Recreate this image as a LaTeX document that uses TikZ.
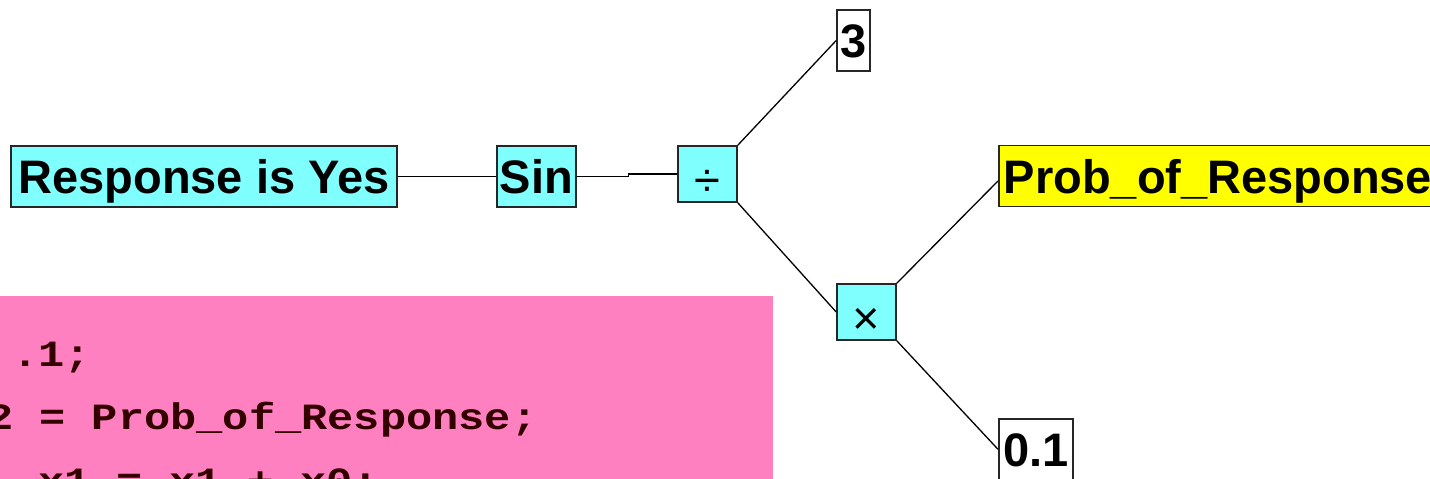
\documentclass[tikz,border=0pt]{standalone}
\usepackage{fontspec}
\setmainfont{Liberation Sans}
\newfontfamily\codefont[FakeStretch=1.18]{Liberation Mono}
\usepackage{tikz}
\definecolor{opcyan}{HTML}{80FFFF}
\definecolor{varyellow}{HTML}{FFFF00}
\definecolor{codepink}{HTML}{FF80C0}
\definecolor{codeink}{HTML}{330000}

\begin{document}
\begin{tikzpicture}[x=1pt,y=-1pt,
    treenode/.style={draw=black!85, line width=1.6pt, inner sep=0pt, minimum height=61pt,
      text height=34pt, text depth=0pt, font=\fontsize{47}{50}\selectfont\bfseries},
    opnode/.style={treenode, fill=opcyan},
    signnode/.style={opnode, minimum width=59pt, minimum height=56pt, font=\fontsize{47}{50}\selectfont\mdseries},
    varnode/.style={treenode, fill=varyellow, inner xsep=5pt},
    constnode/.style={treenode, fill=white},
    codeline/.style={inner sep=0pt, text=codeink, font=\codefont\fontsize{37}{40}\selectfont\bfseries},
    wire/.style={draw=black, line width=1.3pt}]
  \useasboundingbox (0,0) rectangle (1430,479);
  \clip (0,0) rectangle (1430,479);
  % code panel
  \fill[codepink] (0,296) rectangle (773,490);
  \node[codeline, anchor=base west] (codeA) at (12,366) {.1;};
  \node[codeline, anchor=base west] (codeB) at (-13,429) {2 = Prob\_of\_Response;};
  \node[codeline, anchor=base west] (codeC) at (38,493) {x1 = x1 + x0;};
  % tree
  \node[opnode, minimum width=386pt] (resp) at (204,176.5) {Response is Yes};
  \node[opnode, minimum width=79pt] (sin) at (536.5,176.5) {Sin};
  \node[signnode] (div) at (707.5,174) {\raisebox{-5pt}{÷}};
  \node[constnode, minimum width=33pt] (three) at (853.5,40.5) {3};
  \node[signnode] (mul) at (866.5,312) {\raisebox{-5pt}{×}};
  \node[varnode, anchor=west] (prob) at (998,176) {Prob\_of\_Response};
  \node[constnode, minimum width=74pt, anchor=north west] (zero) at (998,418) {0.1};
  \draw[wire] (resp) -- (sin);
  \draw[wire] (sin.east) -- ++(52,0) |- (div.west);
  \draw[wire] (div.north east) -- (three.west);
  \draw[wire] (div.south east) -- (mul.west);
  \draw[wire] (mul.north east) -- ([yshift=-5pt]prob.west);
  \draw[wire] (mul.south east) -- (zero.west);
\end{tikzpicture}
\end{document}
